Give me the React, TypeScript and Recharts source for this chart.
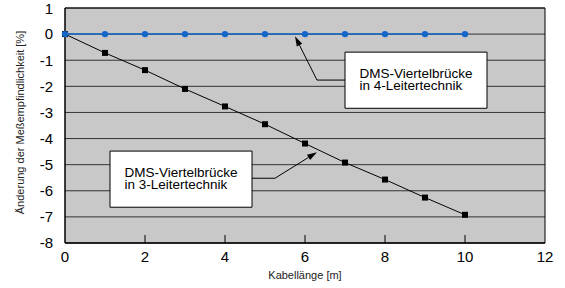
import { CartesianGrid, Line, LineChart, ReferenceArea, ReferenceLine, XAxis, YAxis } from 'recharts';

const kabel = [0, 1, 2, 3, 4, 5, 6, 7, 8, 9, 10];
const vierLeiter = [0, 0, 0, 0, 0, 0, 0, 0, 0, 0, 0];
const dreiLeiter = [0, -0.72, -1.38, -2.1, -2.77, -3.45, -4.19, -4.92, -5.57, -6.26, -6.92];
const xTicks = [0, 2, 4, 6, 8, 10, 12];
const yTicks = [-8, -7, -6, -5, -4, -3, -2, -1, 0, 1];

const data = kabel.map((x, i) => ({ x, vier: vierLeiter[i], drei: dreiLeiter[i] }));

const BLUE = '#1466c8';

function XTick({ x, y, payload }: any) {
  const v = payload.value;
  return (
    <g>
      {v > 0 && v < 12 && <line x1={x} x2={x} y1={y} y2={y - 8} stroke="#000" />}
      <text x={x} y={y + 19} textAnchor="middle" fontSize={15} fill="#000">{v}</text>
    </g>
  );
}

function Square(p: any) {
  if (p.cx == null) return <g key={p.index} />;
  return <rect key={p.index} x={p.cx - 3} y={p.cy - 3} width={6} height={6} fill="#000" />;
}

function BoxText(lines: string[]) {
  return (props: any) => {
    const vb = props.viewBox;
    return (
      <g>
        {lines.map((l, i) => (
          <text key={i} x={vb.x + 14.5} y={vb.y + 26 + i * 11.5} fontSize={13.5} fill="#000">{l}</text>
        ))}
      </g>
    );
  };
}

function YTitle(props: any) {
  const vb = props.viewBox;
  const cx = 20;
  const cy = vb.y + vb.height / 2 - 3;
  return (
    <text x={cx} y={cy} transform={`rotate(-90 ${cx} ${cy})`} textAnchor="middle" dominantBaseline="central" fontSize={11} fill="#222">
      Änderung der Meßempfindlichkeit [%]
    </text>
  );
}

function Leader(arrow: boolean) {
  return (p: any) => {
    const { x1, y1, x2, y2 } = p;
    if (!arrow) return <line x1={x1} y1={y1} x2={x2} y2={y2} stroke="#000" strokeWidth={1} />;
    const a = Math.atan2(y2 - y1, x2 - x1);
    const L = 10, W = 3;
    const bx = x2 - L * Math.cos(a), by = y2 - L * Math.sin(a);
    const nx = -Math.sin(a) * W, ny = Math.cos(a) * W;
    return (
      <g>
        <line x1={x1} y1={y1} x2={bx} y2={by} stroke="#000" strokeWidth={1} />
        <polygon points={`${x2},${y2} ${bx + nx},${by + ny} ${bx - nx},${by - ny}`} fill="#000" />
      </g>
    );
  };
}

export default function App() {
  return (
    <div style={{ position: 'absolute', left: 0, top: 0, fontFamily: '"Liberation Sans", Arial, sans-serif' }}>
      <LineChart width={565} height={288} data={data} margin={{ top: 8, right: 20, bottom: 0, left: 0 }}>
        <CartesianGrid vertical={false} stroke="#333" fill="#c8c8c8" fillOpacity={1} />
        <XAxis
          type="number"
          dataKey="x"
          domain={[0, 12]}
          ticks={xTicks}
          height={45}
          tickSize={0}
          tickMargin={0}
          tickLine={false}
          tick={<XTick />}
          axisLine={{ stroke: '#000' }}
          label={{ value: 'Kabellänge [m]', position: 'insideBottom', offset: 9, fontSize: 11, fill: '#222' }}
        />
        <YAxis
          type="number"
          domain={[-8, 1]}
          ticks={yTicks}
          width={65}
          tickSize={0}
          tickMargin={12}
          tickLine={false}
          tick={{ fontSize: 15, fill: '#000' }}
          axisLine={{ stroke: '#000' }}
          label={{ content: YTitle }}
        />
        <ReferenceArea x1={0} x2={12} y1={-8} y2={1} fill="none" stroke="#000" />
        <ReferenceArea
          x1={7.0} x2={10.55} y1={-2.84} y2={-0.69}
          fill="#fff" fillOpacity={1} stroke="#000"
          label={BoxText(['DMS-Viertelbrücke', 'in 4-Leitertechnik'])}
        />
        <ReferenceArea
          x1={1.125} x2={4.675} y1={-6.63} y2={-4.48}
          fill="#fff" fillOpacity={1} stroke="#000"
          label={BoxText(['DMS-Viertelbrücke', 'in 3-Leitertechnik'])}
        />
        <ReferenceLine segment={[{ x: 7.0, y: -1.76 }, { x: 6.3, y: -1.76 }]} shape={Leader(false)} />
        <ReferenceLine segment={[{ x: 6.3, y: -1.76 }, { x: 5.75, y: -0.08 }]} shape={Leader(true)} />
        <ReferenceLine segment={[{ x: 4.675, y: -5.52 }, { x: 5.25, y: -5.52 }]} shape={Leader(false)} />
        <ReferenceLine segment={[{ x: 5.25, y: -5.52 }, { x: 6.3, y: -4.52 }]} shape={Leader(true)} />
        <Line dataKey="drei" stroke="#000" strokeWidth={1} dot={<Square />} isAnimationActive={false} />
        <Line dataKey="vier" stroke={BLUE} strokeWidth={1.5} dot={{ r: 3.2, fill: BLUE, stroke: BLUE, strokeWidth: 0 }} isAnimationActive={false} />
      </LineChart>
    </div>
  );
}
